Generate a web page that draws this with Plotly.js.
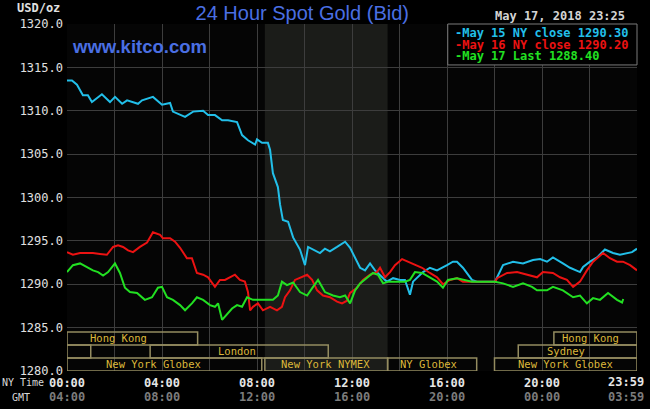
<!DOCTYPE html>
<html>
<head>
<meta charset="utf-8">
<script src="https://cdn.plot.ly/plotly-3.0.1.min.js"></script>
<style>
html,body{margin:0;padding:0;background:#000;}
#chart{width:650px;height:409px;}
</style>
</head>
<body>
<div id="chart"></div>
<script>
// ---- Data (hours since NY midnight, price USD/oz) ----
const may15Hours = [0.00,0.21,0.42,0.67,0.88,1.05,1.47,1.81,2.02,2.32,2.53,2.99,3.16,3.62,4.00,4.34,4.46,4.97,5.31,5.73,5.94,6.23,6.53,6.78,7.16,7.37,7.62,7.92,8.00,8.21,8.46,8.55,8.67,8.88,8.97,9.09,9.31,9.52,9.81,10.02,10.15,10.36,10.65,10.86,11.07,11.37,11.71,11.92,12.13,12.34,12.55,12.76,12.97,13.18,13.47,13.73,14.02,14.23,14.44,14.57,14.99,15.28,15.58,16.00,16.25,16.42,16.67,17.05,17.26,18.02,18.11,18.36,18.78,19.20,19.62,19.92,20.21,20.46,20.88,21.18,21.60,21.73,22.02,22.32,22.65,22.99,23.28,23.58,23.79,24.00];
const may15Price = [1313.5,1313.5,1313.0,1311.8,1311.8,1311.0,1311.9,1311.0,1311.6,1310.8,1311.2,1310.8,1311.2,1311.6,1310.7,1310.9,1309.9,1309.3,1309.9,1310.0,1309.5,1309.5,1308.9,1308.9,1308.7,1307.2,1306.6,1306.1,1306.7,1306.3,1306.3,1305.5,1302.8,1301.2,1299.2,1297.4,1297.2,1295.4,1294.0,1292.2,1294.3,1294.0,1293.6,1294.1,1293.8,1294.3,1294.9,1294.2,1293.1,1291.9,1291.6,1292.4,1291.6,1291.1,1290.3,1290.7,1290.5,1290.5,1288.8,1290.3,1291.4,1291.9,1291.6,1292.2,1292.6,1292.6,1291.9,1290.5,1290.3,1290.3,1290.8,1292.2,1292.6,1292.4,1292.8,1292.9,1292.6,1293.1,1292.4,1291.9,1291.4,1292.0,1292.6,1293.1,1294.0,1293.6,1293.4,1293.6,1293.7,1294.1];

const may16Hours = [0.00,0.25,0.55,0.84,1.09,1.39,1.68,1.94,2.15,2.36,2.57,2.78,3.07,3.37,3.62,3.92,4.04,4.34,4.55,4.76,5.05,5.26,5.39,5.47,5.73,5.94,6.23,6.44,6.65,6.86,7.07,7.28,7.49,7.62,7.71,7.83,8.04,8.25,8.55,8.84,9.05,9.18,9.39,9.60,9.89,10.11,10.32,10.53,10.78,11.07,11.37,11.58,11.79,11.92,12.21,12.46,12.76,13.05,13.18,13.39,13.60,13.81,14.11,14.36,14.65,14.95,15.28,15.58,15.83,16.13,16.42,16.67,17.26,18.02,18.11,18.53,18.95,19.37,19.79,20.04,20.46,20.76,21.05,21.31,21.60,21.89,22.15,22.57,22.86,23.16,23.41,23.71,24.00];
const may16Price = [1293.7,1293.4,1293.6,1293.6,1293.6,1293.5,1293.4,1294.3,1294.5,1294.3,1293.9,1293.7,1294.3,1294.8,1296.0,1295.7,1295.3,1295.3,1294.9,1294.2,1293.0,1293.0,1292.0,1291.3,1291.1,1290.8,1289.7,1290.5,1290.5,1290.8,1291.1,1290.5,1290.3,1289.1,1287.0,1287.4,1287.8,1287.0,1287.4,1287.0,1287.4,1288.5,1289.3,1290.5,1290.8,1291.1,1290.5,1289.3,1288.7,1288.5,1288.0,1287.8,1288.1,1289.0,1289.6,1290.5,1291.1,1291.4,1291.9,1290.8,1291.4,1292.2,1292.9,1292.6,1292.2,1291.9,1291.3,1290.8,1290.0,1290.5,1290.7,1290.3,1290.3,1290.3,1290.7,1291.3,1291.4,1291.1,1290.8,1291.4,1291.3,1290.8,1290.5,1289.7,1290.3,1291.6,1292.6,1293.6,1293.0,1292.6,1292.6,1292.2,1291.6];

const may17Hours = [0.00,0.25,0.55,0.84,1.09,1.31,1.52,1.73,2.02,2.23,2.44,2.65,2.95,3.28,3.58,3.83,4.00,4.21,4.46,4.76,4.97,5.26,5.47,5.73,6.02,6.23,6.36,6.53,6.74,6.95,7.16,7.37,7.58,7.83,8.13,8.42,8.67,8.88,9.05,9.26,9.52,9.81,10.11,10.36,10.57,10.86,11.20,11.49,11.71,11.92,12.13,12.34,12.63,12.88,13.09,13.31,13.52,13.73,14.02,14.23,14.44,14.65,14.95,15.28,15.58,15.83,16.04,16.42,16.76,17.05,18.02,18.36,18.78,19.20,19.58,19.79,20.21,20.46,20.88,21.31,21.60,21.89,22.15,22.44,22.78,23.16,23.37,23.42];
const may17Price = [1291.4,1292.2,1292.4,1292.0,1291.6,1291.4,1291.0,1291.4,1292.4,1291.3,1289.6,1289.1,1289.0,1288.2,1288.5,1289.6,1289.7,1288.5,1288.2,1287.6,1287.0,1287.8,1288.5,1288.2,1287.6,1287.4,1287.8,1285.9,1286.5,1287.2,1287.6,1287.4,1288.5,1288.2,1288.2,1288.2,1288.2,1288.7,1290.3,1289.9,1290.2,1289.1,1288.7,1289.7,1290.5,1289.1,1288.7,1288.5,1288.7,1287.8,1289.3,1290.1,1290.7,1291.3,1291.1,1290.1,1290.3,1290.3,1290.3,1290.3,1290.5,1291.4,1291.3,1290.8,1290.3,1289.6,1290.5,1290.7,1290.5,1290.3,1290.3,1290.1,1289.7,1290.1,1289.7,1289.3,1289.3,1289.7,1289.3,1288.5,1288.7,1287.8,1288.4,1288.2,1289.0,1288.2,1287.9,1288.3];

const legendLabels = ["-May 15 NY close 1290.30", "-May 16 NY close 1290.20", "-May 17 Last 1288.40"];
const nyTickHours = [0, 4, 8, 12, 16, 20];
const nyTickLabels = ["00:00", "04:00", "08:00", "12:00", "16:00", "20:00"];
const gmtTickLabels = ["04:00", "08:00", "12:00", "16:00", "20:00", "00:00"];
const lastNyLabel = "23:59";
const lastGmtLabel = "03:59";

// Market sessions: name, start hour, end hour, row (1 top .. 3 bottom), label hour
const sessionNames = ["Hong Kong", "Hong Kong", "", "London", "Sydney", "New York Globex", "New York NYMEX", "NY Globex", "New York Globex"];
const sessionStart = [0, 20.5, 0, 3.5, 19, 0, 8.33, 13.5, 18.0];
const sessionEnd   = [5.5, 24, 1.0, 11.0, 24, 8.2, 13.5, 17.25, 24];
const sessionRow   = [1, 1, 2, 2, 2, 3, 3, 3, 3];
const sessionLabelAt = [2.15, 22.06, 0.5, 7.16, 21.01, 3.66, 10.9, 15.24, 21.01];
const comexOpen = 8.33, comexClose = 13.5;

// ---- styling ----
const cCyan = "#22bfe9", cRed = "#ec1212", cGreen = "#22e022";
const mono = "DejaVu Sans Mono, Liberation Mono, monospace";
const blue = "#4a6fe3";
const rowTop = {1: 1284.5, 2: 1283.0, 3: 1281.5};
const rowH = 1.5;

const traces = [
  {x: may15Hours, y: may15Price, type: "scatter", mode: "lines", line: {color: cCyan, width: 2}, hoverinfo: "skip"},
  {x: may16Hours, y: may16Price, type: "scatter", mode: "lines", line: {color: cRed, width: 2}, hoverinfo: "skip"},
  {x: may17Hours, y: may17Price, type: "scatter", mode: "lines", line: {color: cGreen, width: 2}, hoverinfo: "skip"}
];

const shapes = [
  {type: "rect", xref: "x", yref: "paper", x0: comexOpen, x1: comexClose, y0: 0, y1: 1,
   fillcolor: "#1b1c19", line: {width: 0}, layer: "below"}
];
const annotations = [];
for (let i = 0; i < sessionNames.length; i++) {
  const top = rowTop[sessionRow[i]];
  shapes.push({type: "rect", xref: "x", yref: "y", x0: sessionStart[i], x1: sessionEnd[i],
    y0: top - rowH, y1: top, line: {color: "#948c60", width: 1.5}, fillcolor: "rgba(0,0,0,0)", layer: "above"});
  if (sessionNames[i]) {
    annotations.push({xref: "x", yref: "y", x: sessionLabelAt[i], y: top - rowH / 2, text: sessionNames[i],
      showarrow: false, font: {family: mono, size: 10.5, color: "#dcb83a"}, xanchor: "center", yanchor: "middle"});
  }
}
// legend box
shapes.push({type: "rect", xref: "paper", yref: "paper", x0: 0.668, x1: 1.0, y0: 0.882, y1: 1.0,
  fillcolor: "#000000", line: {color: "#7a7a7a", width: 1}, layer: "above"});
const legendColors = [cCyan, cRed, cGreen];
for (let i = 0; i < legendLabels.length; i++) {
  annotations.push({xref: "paper", yref: "paper", x: 0.677, y: 0.974 - i * 0.0335, text: "<b>" + legendLabels[i] + "</b>",
    showarrow: false, xanchor: "left", yanchor: "middle", font: {family: mono, size: 12, color: legendColors[i]}});
}
// GMT row of tick labels
for (let i = 0; i < nyTickHours.length; i++) {
  annotations.push({xref: "x", yref: "paper", x: nyTickHours[i], y: -0.075, text: "<b>" + gmtTickLabels[i] + "</b>",
    showarrow: false, xanchor: "center", yanchor: "middle", font: {family: mono, size: 12, color: "#7c7c7c"}});
}
annotations.push({xref: "x", yref: "paper", x: 23.52, y: -0.032, text: "<b>" + lastNyLabel + "</b>",
  showarrow: false, xanchor: "center", yanchor: "middle", font: {family: mono, size: 12, color: "#e6e6e6"}});
annotations.push({xref: "x", yref: "paper", x: 23.52, y: -0.075, text: "<b>" + lastGmtLabel + "</b>",
  showarrow: false, xanchor: "center", yanchor: "middle", font: {family: mono, size: 12, color: "#7c7c7c"}});
// side labels
annotations.push({xref: "paper", yref: "paper", x: -0.117, y: -0.032, text: "NY Time", showarrow: false,
  xanchor: "left", yanchor: "middle", font: {family: mono, size: 10, color: "#d8d8d8"}});
annotations.push({xref: "paper", yref: "paper", x: -0.1, y: -0.075, text: "GMT", showarrow: false,
  xanchor: "left", yanchor: "middle", font: {family: mono, size: 10, color: "#d8d8d8"}});
annotations.push({xref: "paper", yref: "paper", x: -0.008, y: 1.045, text: "<b>USD/oz</b>", showarrow: false,
  xanchor: "right", yanchor: "middle", font: {family: mono, size: 12, color: "#e0e0e0"}});
// date
annotations.push({xref: "paper", yref: "paper", x: 0.982, y: 1.023, text: "<b>May 17, 2018 23:25</b>", showarrow: false,
  xanchor: "right", yanchor: "middle", font: {family: mono, size: 12, color: "#d4d4d4"}});
// website
annotations.push({xref: "paper", yref: "paper", x: 0.005, y: 0.935, text: "<b>www.kitco.com</b>", showarrow: false,
  xanchor: "left", yanchor: "middle", font: {family: "Liberation Sans, Arial, sans-serif", size: 18.5, color: blue}});

const gridTicks = [];
const gridText = [];
for (let h = 0; h <= 24; h += 2) {
  gridTicks.push(h);
  const k = nyTickHours.indexOf(h);
  gridText.push(k >= 0 ? "<b>" + nyTickLabels[k] + "</b>" : "");
}

const layout = {
  width: 650, height: 409,
  margin: {l: 67, r: 13, t: 24, b: 38, pad: 0},
  paper_bgcolor: "#000000",
  plot_bgcolor: "#050505",
  showlegend: false,
  title: {text: "24 Hour Spot Gold (Bid)", x: 0.465, xanchor: "center", y: 0.968, yanchor: "middle",
          font: {family: "Liberation Sans, Arial, sans-serif", size: 20, color: blue}},
  xaxis: {range: [0, 24], tickvals: gridTicks, ticktext: gridText, showgrid: true, gridcolor: "#3d3d3d", gridwidth: 1,
          zeroline: false, ticks: "", tickfont: {family: mono, size: 12, color: "#e6e6e6"}, fixedrange: true,
          showline: false, ticklabelstandoff: 3},
  yaxis: {range: [1280, 1320], tickvals: [1280,1285,1290,1295,1300,1305,1310,1315,1320], tickformat: ".1f",
          showgrid: true, gridcolor: "#3d3d3d", gridwidth: 1, zeroline: false, ticks: "",
          tickfont: {family: mono, size: 12, color: "#e0e0e0"}, ticklabelstandoff: 3, fixedrange: true},
  shapes: shapes,
  annotations: annotations
};

Plotly.newPlot("chart", traces, layout, {staticPlot: true, displayModeBar: false});
</script>
</body>
</html>
